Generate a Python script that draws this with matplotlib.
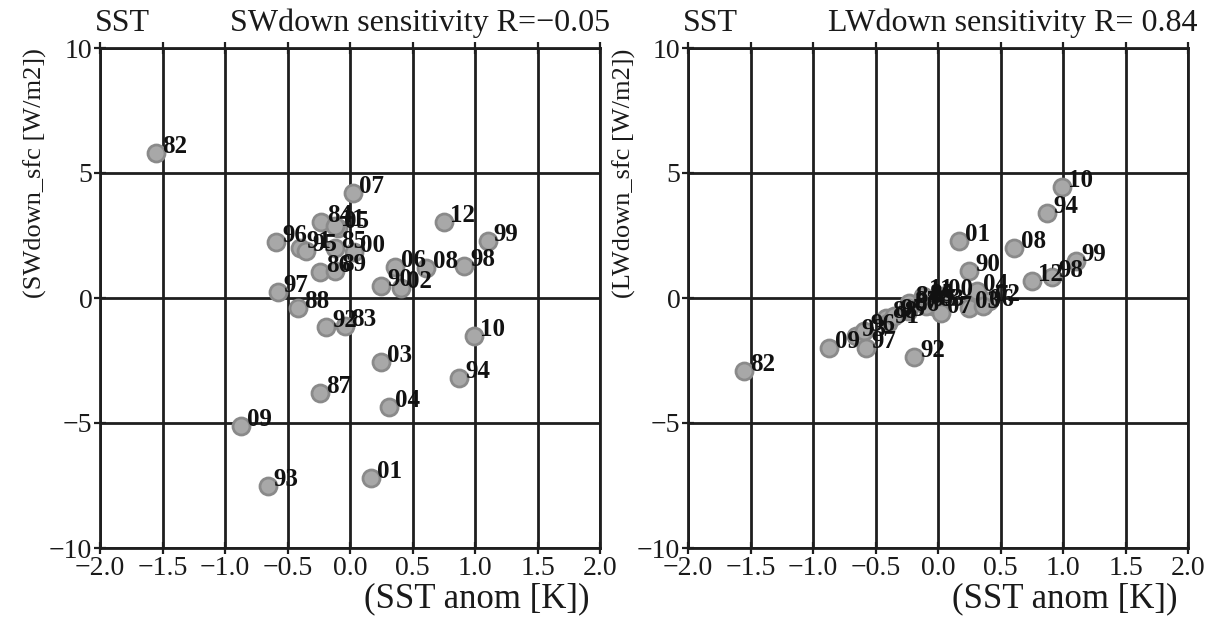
import matplotlib
matplotlib.use("Agg")
import matplotlib.pyplot as plt

plt.rcParams['font.family'] = ['Liberation Serif', 'DejaVu Serif']
plt.rcParams['axes.unicode_minus'] = True

years = ["82", "83", "84", "85", "86", "87", "88", "89", "90", "91", "92",
         "93", "94", "95", "96", "97", "98", "99", "00", "01", "02", "03",
         "04", "05", "06", "07", "08", "09", "10", "11", "12"]
sst_anom = [-1.55, -0.04, -0.23, -0.12, -0.24, -0.24, -0.42, -0.12, 0.25, -0.40, -0.19,
            -0.66, 0.87, -0.35, -0.59, -0.58, 0.91, 1.10, 0.03, 0.17, 0.41, 0.25,
            0.31, -0.10, 0.36, 0.02, 0.61, -0.87, 0.99, -0.12, 0.75]
swdown = [5.8, -1.1, 3.05, 2.0, 1.05, -3.8, -0.4, 1.1, 0.5, 2.0, -1.15,
          -7.5, -3.2, 1.9, 2.25, 0.25, 1.3, 2.3, 1.85, -7.2, 0.4, -2.55,
          -4.35, 2.8, 1.25, 4.2, 1.2, -5.1, -1.5, 2.9, 3.05]
lwdown = [-2.9, -0.3, -0.2, -0.1, -0.5, -0.4, -0.8, -0.2, 1.1, -1.0, -2.35,
          -1.5, 3.4, -0.7, -1.3, -2.0, 0.85, 1.5, 0.1, 2.3, -0.1, -0.4,
          0.3, -0.3, -0.3, -0.6, 2.0, -2.0, 4.45, 0.1, 0.7]

xticks = [-2.0, -1.5, -1.0, -0.5, 0.0, 0.5, 1.0, 1.5, 2.0]
yticks = [-10, -5, 0, 5, 10]
xticklabels = ["\u22122.0", "\u22121.5", "\u22121.0", "\u22120.5", "0.0", "0.5", "1.0", "1.5", "2.0"]
yticklabels = ["\u221210", "\u22125", "0", "5", "10"]

panels = [
    dict(y=swdown, ylabel="(SWdown_sfc [W/m2])", title="SWdown sensitivity R=\u22120.05"),
    dict(y=lwdown, ylabel="(LWdown_sfc [W/m2])", title="LWdown sensitivity R= 0.84"),
]

W, H = 1221, 621
fig = plt.figure(figsize=(W / 100, H / 100), dpi=100)
lefts_px = [100, 688]
ink = '#1e1e1e'
txt = '#1a1a1a'

for left_px, p in zip(lefts_px, panels):
    ax = fig.add_axes([left_px / W, (H - 548) / H, 500 / W, 500 / H])
    ax.set_xlim(-2, 2)
    ax.set_ylim(-10, 10)
    ax.set_xticks(xticks)
    ax.set_xticklabels(xticklabels)
    ax.set_yticks(yticks)
    ax.set_yticklabels(yticklabels)
    ax.grid(True, color=ink, linewidth=2.0)
    ax.set_axisbelow(True)
    for s in ax.spines.values():
        s.set_color(ink)
        s.set_linewidth(2.0)
    ax.tick_params(axis='both', which='major', direction='inout', length=9, width=1.6,
                   color=ink, labelsize=20, labelcolor=txt, pad=1,
                   top=True, bottom=True, left=True, right=False)
    ax.scatter(sst_anom, p['y'], s=150, facecolor='#a8a8a8', edgecolor='#8a8a8a',
               linewidth=2.0, zorder=3)
    for yr, xv, yv in zip(years, sst_anom, p['y']):
        ax.annotate(yr, (xv, yv), xytext=(4.5, 4.5), textcoords='offset points',
                    ha='left', va='center', fontsize=18, fontweight='bold',
                    color='#111111', zorder=4)
    ax.set_xlabel("(SST anom [K])", fontsize=25, color=txt)
    ax.xaxis.set_label_coords(0.98, -0.068)
    ax.xaxis.label.set_horizontalalignment('right')
    ax.xaxis.label.set_verticalalignment('top')
    ax.set_ylabel(p['ylabel'], fontsize=19, color=txt)
    ax.yaxis.set_label_coords(-0.105, 0.75)
    ax.text(-0.01, 1.02, "SST", transform=ax.transAxes, ha='left', va='bottom',
            fontsize=23, color=txt)
    ax.text(1.02, 1.02, p['title'], transform=ax.transAxes, ha='right', va='bottom',
            fontsize=23, color=txt)

fig.savefig("out.png", dpi=100)
